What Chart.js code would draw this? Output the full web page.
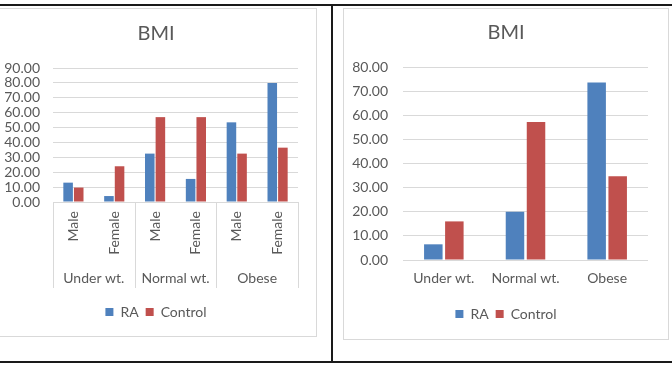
<!DOCTYPE html>
<html>
<head>
<meta charset="utf-8">
<script src="https://cdn.jsdelivr.net/npm/chart.js@4.4.1/dist/chart.umd.min.js"></script>
<style>
  html, body { margin: 0; padding: 0; background: #fff; }
  body { width: 672px; height: 372px; position: relative; overflow: hidden; }
  canvas, .frame, .rule { position: absolute; }
  .frame { border: 1px solid #d9d9d9; box-sizing: border-box; pointer-events: none; }
  .rule { background: #1a1a1a; }
</style>
</head>
<body>
<canvas id="chart-sesso" width="320" height="328" style="left:-4px; top:8px;"></canvas>
<div class="frame" style="left:-4px; top:8px; width:321px; height:329px;"></div>
<canvas id="chart-totale" width="326" height="332" style="left:343px; top:8px;"></canvas>
<div class="frame" style="left:343px; top:8px; width:326px; height:332px;"></div>
<div class="rule" style="left:0; top:4px; width:672px; height:2px;"></div>
<div class="rule" style="left:0; top:361px; width:672px; height:2px;"></div>
<div class="rule" style="left:331px; top:4px; width:2px; height:359px;"></div>

<script>
// ── Dati ───────────────────────────────────────────────────
var groupLabels = ['Under wt.', 'Normal wt.', 'Obese'];
var sexLabels = ['Male', 'Female', 'Male', 'Female', 'Male', 'Female'];
var raBySex = [13, 4, 32.5, 15.5, 53.5, 80];
var controlBySex = [9.7, 24, 57, 57, 32.5, 36.5];
var raTotal = [6.5, 20, 73.6];
var controlTotal = [16, 57.2, 34.7];
var seriesNames = ['RA', 'Control'];

var BLUE = '#4f81bd';
var RED = '#c0504d';
var TEXT = '#595959';
var GRID = '#d9d9d9';

Chart.defaults.font.family = 'Lato, "Open Sans", sans-serif';
Chart.defaults.font.size = 14;
Chart.defaults.color = TEXT;

function fmt(v) { return Number(v).toFixed(2); }

function titleOpts() {
    return {
        display: true,
        text: 'BMI',
        color: TEXT,
        font: { size: 20, weight: 'normal' },
        padding: { top: 14, bottom: 22 }
    };
}

function legendOpts() {
    return {
        position: 'bottom',
        labels: { boxWidth: 8, boxHeight: 8, padding: 7, color: TEXT, font: { size: 14 } }
    };
}

// asse vuoto a destra: margine senza spostare titolo e legenda
function spacerAxis(w) {
    return {
        type: 'linear',
        position: 'right',
        grid: { display: false, drawTicks: false },
        border: { display: false },
        ticks: { display: false },
        afterFit: function (s) { s.width = w; }
    };
}

// linee verticali che separano i gruppi sotto l'asse
var groupSeparators = {
    id: 'groupSeparators',
    afterDraw: function (chart) {
        var x = chart.scales.x;
        var ctx = chart.ctx;
        ctx.save();
        ctx.strokeStyle = GRID;
        ctx.lineWidth = 1;
        for (var b = 0; b <= sexLabels.length; b += 2) {
            var px = Math.round(x.getPixelForValue(b - 0.5)) + 0.5;
            ctx.beginPath();
            ctx.moveTo(px, chart.chartArea.bottom);
            ctx.lineTo(px, chart.scales.x2.bottom - 10);
            ctx.stroke();
        }
        ctx.restore();
    }
};

// ── Grafico per sesso ──────────────────────────────────────
new Chart(document.getElementById('chart-sesso'), {
    type: 'bar',
    data: {
        labels: sexLabels,
        datasets: [
            { label: seriesNames[0], data: raBySex, backgroundColor: BLUE },
            { label: seriesNames[1], data: controlBySex, backgroundColor: RED }
        ]
    },
    options: {
        responsive: false,
        animation: false,
        devicePixelRatio: 1,
        categoryPercentage: 0.52,
        barPercentage: 0.9,
        layout: { padding: { left: 0, right: 0, bottom: 7 } },
        scales: {
            x: {
                weight: 0,
                grid: { display: false, drawTicks: false },
                border: { display: false },
                ticks: { minRotation: 90, maxRotation: 90, autoSkip: false, padding: 9, color: TEXT },
                afterFit: function (s) { s.height = 60; }
            },
            x2: {
                type: 'category',
                position: 'bottom',
                weight: 1,
                labels: groupLabels,
                offset: true,
                grid: { display: false, drawTicks: false },
                border: { display: false },
                ticks: { padding: 8, color: TEXT },
                afterFit: function (s) { s.height = 36; }
            },
            y: {
                min: 0,
                max: 90,
                grid: { color: GRID, drawTicks: false },
                border: { display: false },
                ticks: { stepSize: 10, autoSkip: false, padding: 13, color: TEXT, callback: fmt },
                afterFit: function (s) { s.width = 57; }
            },
            yr: spacerAxis(18)
        },
        plugins: {
            title: titleOpts(),
            legend: legendOpts(),
            tooltip: { enabled: false }
        }
    },
    plugins: [groupSeparators]
});

// ── Grafico totale ─────────────────────────────────────────
new Chart(document.getElementById('chart-totale'), {
    type: 'bar',
    data: {
        labels: groupLabels,
        datasets: [
            { label: seriesNames[0], data: raTotal, backgroundColor: BLUE },
            { label: seriesNames[1], data: controlTotal, backgroundColor: RED }
        ]
    },
    options: {
        responsive: false,
        animation: false,
        devicePixelRatio: 1,
        categoryPercentage: 0.515,
        barPercentage: 0.88,
        layout: { padding: { left: 0, right: 0, bottom: 9 } },
        scales: {
            x: {
                grid: { display: false, drawTicks: false },
                border: { display: false },
                ticks: { padding: 10, color: TEXT },
                afterFit: function (s) { s.height = 40; }
            },
            y: {
                min: 0,
                max: 80,
                grid: { color: GRID, drawTicks: false },
                border: { display: false },
                ticks: { stepSize: 10, autoSkip: false, padding: 15, color: TEXT, callback: fmt },
                afterFit: function (s) { s.width = 60; }
            },
            yr: spacerAxis(21)
        },
        plugins: {
            title: Object.assign(titleOpts(), { padding: { top: 13, bottom: 22 } }),
            legend: legendOpts(),
            tooltip: { enabled: false }
        }
    }
});
</script>
</body>
</html>
